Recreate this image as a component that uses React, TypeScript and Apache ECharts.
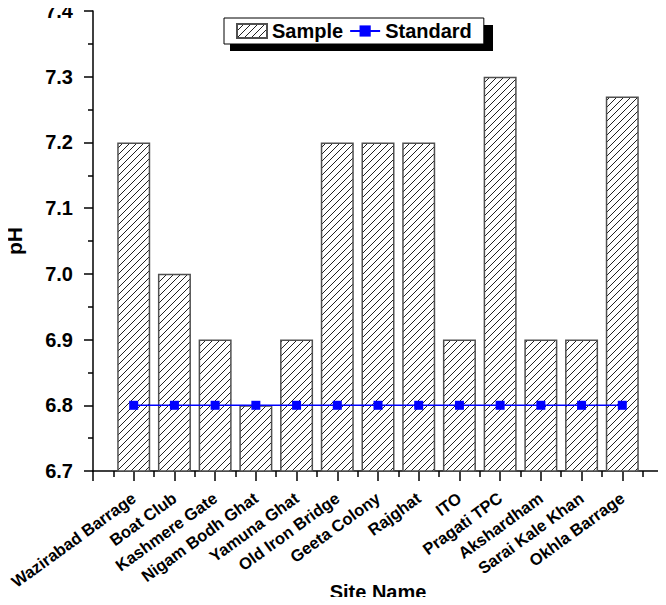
import React, { useEffect, useRef } from "react";
import * as echarts from "echarts";

const sites = [
  "Wazirabad Barrage",
  "Boat Club",
  "Kashmere Gate",
  "Nigam Bodh Ghat",
  "Yamuna Ghat",
  "Old Iron Bridge",
  "Geeta Colony",
  "Rajghat",
  "ITO",
  "Pragati TPC",
  "Akshardham",
  "Sarai Kale Khan",
  "Okhla Barrage",
];
const sampleValues = [7.2, 7.0, 6.9, 6.8, 6.9, 7.2, 7.2, 7.2, 6.9, 7.3, 6.9, 6.9, 7.27];
const standardValues = [6.8, 6.8, 6.8, 6.8, 6.8, 6.8, 6.8, 6.8, 6.8, 6.8, 6.8, 6.8, 6.8];

const FONT = "'Liberation Sans', Arial, sans-serif";

function makeHatch(): HTMLCanvasElement {
  const s = 7;
  const c = document.createElement("canvas");
  c.width = s;
  c.height = s;
  const ctx = c.getContext("2d")!;
  ctx.fillStyle = "#ffffff";
  ctx.fillRect(0, 0, s, s);
  ctx.strokeStyle = "#222222";
  ctx.lineWidth = 1;
  ctx.beginPath();
  ctx.moveTo(-1, s + 1);
  ctx.lineTo(s + 1, -1);
  ctx.moveTo(-1, 1);
  ctx.lineTo(1, -1);
  ctx.moveTo(s - 1, s + 1);
  ctx.lineTo(s + 1, s - 1);
  ctx.stroke();
  return c;
}

export default function App() {
  const ref = useRef<HTMLDivElement>(null);
  useEffect(() => {
    if (!ref.current) return;
    const chart = echarts.init(ref.current, null, { renderer: "svg" });
    const hatch = makeHatch();
    const pattern = { image: hatch, repeat: "repeat", imageWidth: 7, imageHeight: 7 };
    chart.setOption({
      animation: false,
      backgroundColor: "#ffffff",
      textStyle: { fontFamily: FONT },
      grid: {
        left: 93,
        right: 3,
        top: 11,
        bottom: 134,
        containLabel: false,
        outerBoundsMode: "none",
      },
      graphic: [
        {
          type: "rect",
          z: 0,
          shape: { x: 230, y: 25, width: 263, height: 26 },
          style: { fill: "#000000" },
        },
      ],
      legend: {
        z: 10,
        left: 224,
        top: 18,
        padding: [3, 12, 3, 12],
        itemGap: 6,
        itemWidth: 30,
        itemHeight: 14,
        backgroundColor: "#ffffff",
        borderColor: "#000000",
        borderWidth: 1,
        textStyle: { fontFamily: FONT, fontSize: 20, fontWeight: "bold", color: "#000" },
        data: [{ name: "Sample", icon: "rect" }, { name: "Standard" }],
      },
      xAxis: {
        type: "value",
        min: 0,
        max: 14,
        interval: 1,
        name: "Site Name",
        nameLocation: "middle",
        nameGap: 111,
        nameMoveOverlap: false,
        nameTextStyle: { fontFamily: FONT, fontSize: 20, fontWeight: "bold", color: "#000" },
        axisLine: { show: true, onZero: false, lineStyle: { color: "#000", width: 1.5 } },
        axisTick: { show: true, inside: false, length: 10, lineStyle: { color: "#000", width: 1.5 } },
        minorTick: { show: true, splitNumber: 2, length: 6, lineStyle: { color: "#000", width: 1.5 } },
        splitLine: { show: false },
        minorSplitLine: { show: false },
        axisLabel: {
          rotate: 36,
          margin: 25,
          fontFamily: FONT,
          fontSize: 16.5,
          fontWeight: "bold",
          color: "#000",
          formatter: (v: number) => {
            const i = Math.round(v) - 1;
            return i >= 0 && i < sites.length ? sites[i] : "";
          },
        },
      },
      yAxis: {
        type: "value",
        min: 6.7,
        max: 7.4,
        interval: 0.1,
        name: "pH",
        nameLocation: "middle",
        nameGap: 68,
        nameMoveOverlap: false,
        nameTextStyle: { fontFamily: FONT, fontSize: 21, fontWeight: "bold", color: "#000" },
        axisLine: { show: true, lineStyle: { color: "#000", width: 1.5 } },
        axisTick: { show: true, inside: false, length: 9, lineStyle: { color: "#000", width: 1.5 } },
        minorTick: { show: true, splitNumber: 2, length: 5, lineStyle: { color: "#000", width: 1.5 } },
        splitLine: { show: false },
        minorSplitLine: { show: false },
        axisLabel: {
          margin: 20,
          fontFamily: FONT,
          fontSize: 20,
          fontWeight: "bold",
          color: "#000",
          formatter: (v: number) => v.toFixed(1),
        },
      },
      series: [
        {
          name: "Sample",
          type: "bar",
          barWidth: 33,
          clip: true,
          itemStyle: { color: pattern, borderColor: "#505050", borderWidth: 1.5 },
          data: sampleValues.map((v, i) => [i + 1, v]),
        },
        {
          name: "Standard",
          type: "line",
          symbol: "rect",
          symbolSize: 9,
          z: 5,
          itemStyle: { color: "#0000ff" },
          lineStyle: { color: "#0000ff", width: 1.5 },
          data: standardValues.map((v, i) => [i + 1, v]),
        },
      ],
    });
    return () => chart.dispose();
  }, []);
  return <div ref={ref} style={{ width: 666, height: 605, margin: -8 }} />;
}
